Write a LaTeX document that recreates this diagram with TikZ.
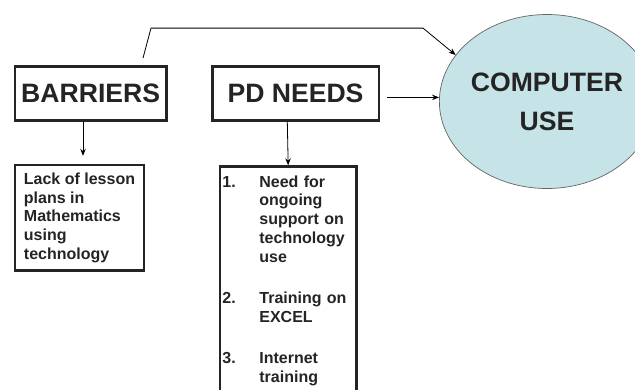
\documentclass[tikz,border=0pt]{standalone}
\usepackage{fontspec}
\setmainfont{Liberation Sans}
\usetikzlibrary{shapes.geometric,arrows.meta,positioning}
\definecolor{ink}{RGB}{36,36,36}
\definecolor{usefill}{RGB}{198,228,231}

\begin{document}
\begin{tikzpicture}[x=1pt,y=-1pt,
		headbox/.style={draw=ink, line width=2.4pt, inner sep=0pt, text=ink,
			font=\bfseries\fontsize{26.6}{30}\selectfont, minimum height=54.2pt},
		listbox/.style={draw=ink, line width=2.4pt, text=ink, align=left,
			font=\bfseries\fontsize{16}{18.8}\selectfont},
		arr/.style={-{Stealth[length=7pt,width=5.5pt]}, line width=0.8pt, draw=black}]
		{
			\def\num#1{\makebox[37pt][l]{#1}}
			\def\ind{\hspace*{37pt}}
			\useasboundingbox (0,0) rectangle (635,389);
			\clip (0,0) rectangle (635,389);

			\node[headbox, minimum width=151.3pt] (barriers) at (90.7,93.4) {BARRIERS};
			\node[headbox, minimum width=166.4pt] (pd) at (295.5,93.4) {PD NEEDS};

			\node[ellipse, draw={rgb,255:red,100;green,100;blue,100}, line width=0.7pt,
				fill=usefill, inner sep=0pt, minimum width=202pt, minimum height=174pt,
				align=center, text=ink, font=\bfseries\fontsize{26.6}{39}\selectfont]
				(cu) at (547,101.5) {COMPUTER\\USE};

			\node[listbox, minimum width=129pt, minimum height=105.5pt, inner sep=0pt]
				(lack) at (79.5,217.75) {Lack of lesson\\plans in\\Mathematics\\using\\technology};

			\node[listbox, anchor=north west, text width=131.6pt, inner xsep=2.5pt,
				inner ysep=9pt] (needs) at (218.7,165.3)
				{\num{1.}Need for\\ \ind ongoing\\ \ind support on\\ \ind technology\\ \ind use\\[22.5pt]
				\num{2.}Training on\\ \ind EXCEL\\[22.5pt]
				\num{3.}Internet\\ \ind training};

			\draw[arr] ([xshift=-7.7pt]barriers.south) -- ([xshift=3.5pt,yshift=8pt]lack.north);
			\draw[arr] ([xshift=-8.2pt]pd.south) -- (needs.north);

			\coordinate (pdout) at ([xshift=7.3pt,yshift=-4pt]pd.east);
			\draw[arr] (pdout) -- (pdout -| cu.west);

			\draw[arr] ([xshift=52.3pt,yshift=7pt]barriers.north) -- ++(8,-30) -- ++(272,0) -- (cu.153);
		}
	\end{tikzpicture}
\end{document}
